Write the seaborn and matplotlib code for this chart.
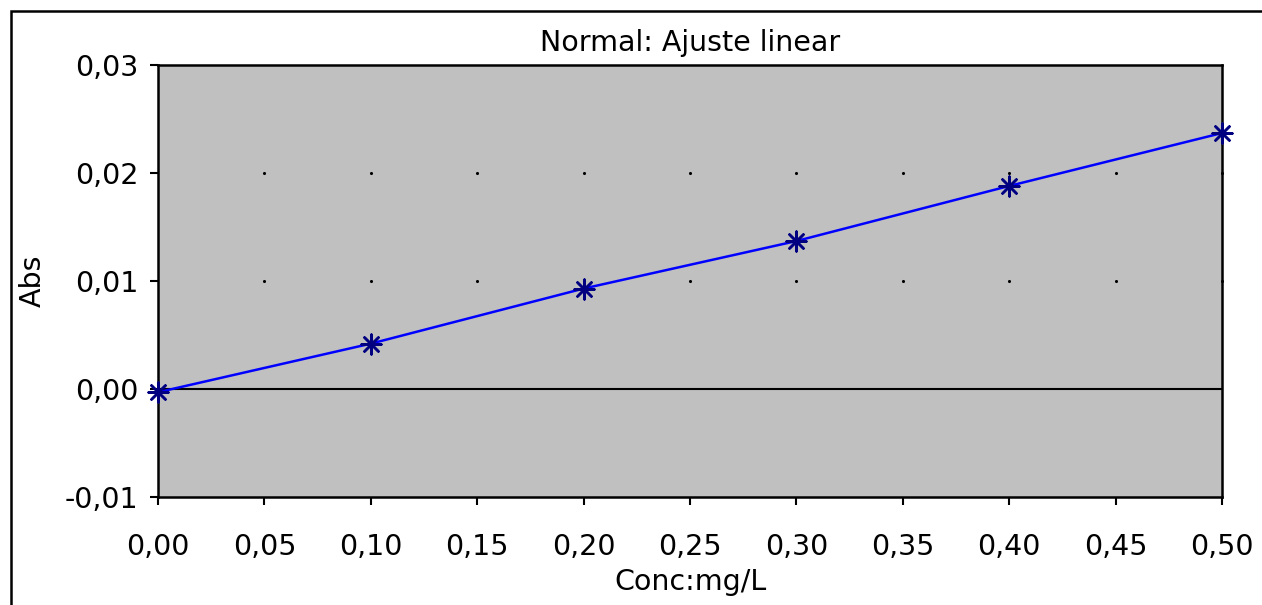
import numpy as np
import pandas as pd
import matplotlib
matplotlib.use("Agg")
import matplotlib.pyplot as plt
import seaborn as sns
from matplotlib.patches import Rectangle
from matplotlib.ticker import FuncFormatter, MultipleLocator

# ---- data ----
conc = [0.0, 0.1, 0.2, 0.3, 0.4, 0.5]
absorb = [-0.0003, 0.0042, 0.0093, 0.0137, 0.0188, 0.0237]
title = "Normal: Ajuste linear"
xlabel = "Conc:mg/L"
ylabel = "Abs"

df = pd.DataFrame({"conc": conc, "abs": absorb})

sns.set_theme(style="white")
plt.rcParams["font.family"] = ["DejaVu Sans"]
FS = 20.5

fig = plt.figure(figsize=(12.62, 6.05), dpi=100)
W, H = 1262, 605
ax = fig.add_axes([158 / W, 1 - 497 / H, (1222 - 158) / W, (497 - 65) / H])
ax.set_facecolor("#C0C0C0")

ax.set_xlim(0, 0.5)
ax.set_ylim(-0.01, 0.03)
ax.xaxis.set_major_locator(MultipleLocator(0.05))
ax.yaxis.set_major_locator(MultipleLocator(0.01))
fmt = FuncFormatter(lambda v, p: f"{v:.2f}".replace(".", ",").replace("-0,00", "0,00"))
ax.xaxis.set_major_formatter(fmt)
ax.yaxis.set_major_formatter(fmt)

# dotted grid: dots at x-tick / y-tick intersections (interior)
xt = np.round(np.arange(0.05, 0.5001, 0.05), 2)
for yv in [0.01, 0.02]:
    ax.scatter(xt, [yv] * len(xt), s=5, color="black", zorder=2, linewidths=0,
               clip_on=False)

# zero line
ax.axhline(0, color="black", lw=1.5, zorder=3)

sns.lineplot(data=df, x="conc", y="abs", ax=ax, color="#0000FF", lw=1.8,
             zorder=4, clip_on=False)
sns.scatterplot(data=df, x="conc", y="abs", ax=ax, marker=(8, 2, 0), s=200,
                color="#000080", edgecolor="#000080", linewidth=1.8,
                zorder=5, clip_on=False)

for sp in ax.spines.values():
    sp.set_color("black")
    sp.set_linewidth(1.8)
    sp.set_visible(True)

ax.tick_params(axis="both", which="major", direction="out", length=6, width=1.5,
               color="black", labelsize=FS, labelcolor="black",
               bottom=True, left=True)
ax.tick_params(axis="x", pad=20)
ax.tick_params(axis="y", pad=8)

ax.set_title(title, fontsize=FS, pad=10, color="black")
ax.set_xlabel(xlabel, fontsize=FS, labelpad=5, color="black")
ax.set_ylabel(ylabel, fontsize=FS, labelpad=13, color="black")

# outer chart border (left/top visible)
fig.patches.append(Rectangle((11 / W, -0.05), 1.2, 1 - 11 / H + 0.05,
                             transform=fig.transFigure, fill=False,
                             edgecolor="black", lw=1.8))

fig.savefig("out.png", dpi=100, facecolor="white")
